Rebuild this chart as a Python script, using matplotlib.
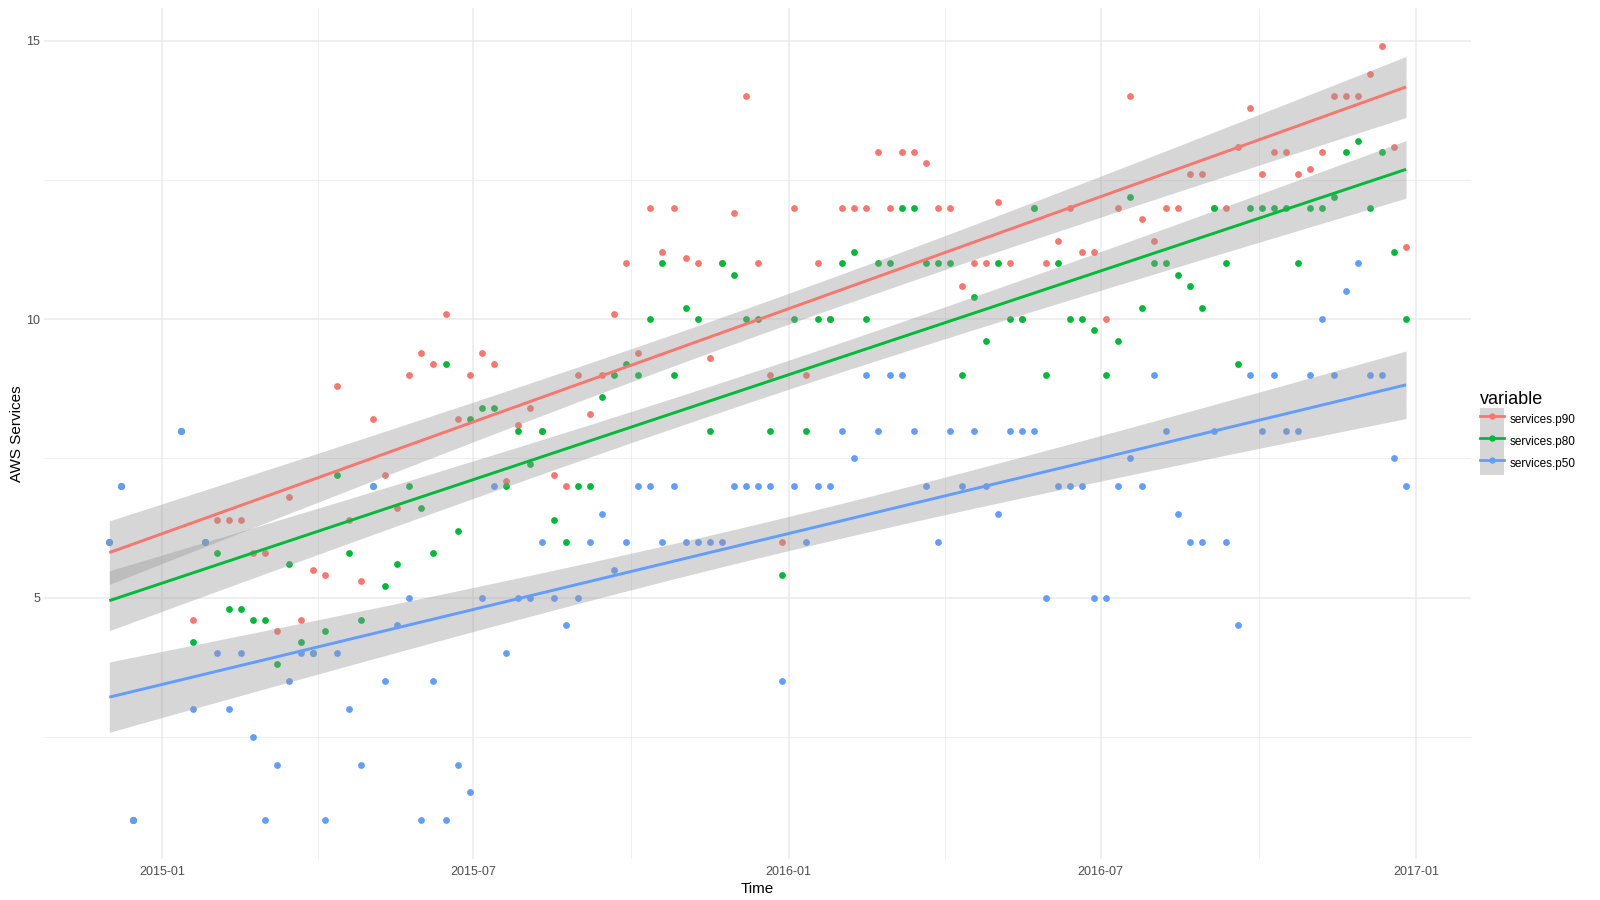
import numpy as np
import pandas as pd
import matplotlib
matplotlib.use("Agg")
import matplotlib.pyplot as plt
import matplotlib.dates as mdates
from matplotlib.patches import Rectangle
from matplotlib.lines import Line2D
from matplotlib.legend_handler import HandlerTuple

plt.rcParams['font.family'] = ['Liberation Sans', 'DejaVu Sans']

# ---------------- data (weekly observations, None = no data that week) -------------
start_date = "2014-12-01"

p90 = [6, 7, 1, None, None, None, 8, 4.6, 6, 6.4, 6.4, 6.4, 5.8, 5.8, 4.4, 6.8, 4.6, 5.5, 5.4, 8.8,
       6.4, 5.3, 8.2, 7.2, 6.6, 9.0, 9.4, 9.2, 10.1, 8.2, 9.0, 9.4, 9.2, 7.1, 8.1, 8.4, 8.0, 7.2, 7.0, 9.0,
       8.3, 9.0, 10.1, 11.0, 9.4, 12.0, 11.2, 12.0, 11.1, 11.0, 9.3, 11.0, 11.9, 14.0, 11.0, 9.0, 6.0, 12.0, 9.0, 11.0,
       10.0, 12.0, 12.0, 12.0, 13.0, 12.0, 13.0, 13.0, 12.8, 12.0, 12.0, 10.6, 11.0, 11.0, 12.1, 11.0, 10.0, 12.0, 11.0, 11.4,
       12.0, 11.2, 11.2, 10.0, 12.0, 14.0, 11.8, 11.4, 12.0, 12.0, 12.6, 12.6, 12.0, 12.0, 13.1, 13.8, 12.6, 13.0, 13.0, 12.6,
       12.7, 13.0, 14.0, 14.0, 14.0, 14.4, 14.9, 13.1, 11.3]

p80 = [6, 7, 1, None, None, None, 8, 4.2, 6, 5.8, 4.8, 4.8, 4.6, 4.6, 3.8, 5.6, 4.2, 4.0, 4.4, 7.2,
       5.8, 4.6, 7.0, 5.2, 5.6, 7.0, 6.6, 5.8, 9.2, 6.2, 8.2, 8.4, 8.4, 7.0, 8.0, 7.4, 8.0, 6.4, 6.0, 7.0,
       7.0, 8.6, 9.0, 9.2, 9.0, 10.0, 11.0, 9.0, 10.2, 10.0, 8.0, 11.0, 10.8, 10.0, 10.0, 8.0, 5.4, 10.0, 8.0, 10.0,
       10.0, 11.0, 11.2, 10.0, 11.0, 11.0, 12.0, 12.0, 11.0, 11.0, 11.0, 9.0, 10.4, 9.6, 11.0, 10.0, 10.0, 12.0, 9.0, 11.0,
       10.0, 10.0, 9.8, 9.0, 9.6, 12.2, 10.2, 11.0, 11.0, 10.8, 10.6, 10.2, 12.0, 11.0, 9.2, 12.0, 12.0, 12.0, 12.0, 11.0,
       12.0, 12.0, 12.2, 13.0, 13.2, 12.0, 13.0, 11.2, 10.0]

p50 = [6, 7, 1, None, None, None, 8, 3, 6, 4, 3, 4, 2.5, 1, 2, 3.5, 4, 4, 1, 4,
       3, 2, 7, 3.5, 4.5, 5, 1, 3.5, 1, 2, 1.5, 5, 7, 4, 5, 5, 6, 5, 4.5, 5,
       6, 6.5, 5.5, 6, 7, 7, 6, 7, 6, 6, 6, 6, 7, 7, 7, 7, 3.5, 7, 6, 7,
       7, 8, 7.5, 9, 8, 9, 9, 8, 7, 6, 8, 7, 8, 7, 6.5, 8, 8, 8, 5, 7,
       7, 7, 5, 5, 7, 7.5, 7, 9, 8, 6.5, 6, 6, 8, 6, 4.5, 9, 8, 9, 8, 8,
       9, 10, 9, 10.5, 11, 9, 9, 7.5, 7]

series_names = ["services.p90", "services.p80", "services.p50"]
series_colors = ["#F8766D", "#00BA38", "#619CFF"]
x_tick_labels = ["2015-01", "2015-07", "2016-01", "2016-07", "2017-01"]
y_ticks = [5, 10, 15]

# ---------------------------------------------------------------------------------
dates = pd.date_range(start_date, periods=len(p90), freq="7D")
xnum_all = mdates.date2num(dates.to_pydatetime())

fig = plt.figure(figsize=(16, 9), dpi=100)
ax = fig.add_axes([0.0278, 0.0456, 0.8915, 0.9459])

band_color = "#999999"
band_alpha = 0.4


def t975(df):
    z = 1.959964
    return (z + (z**3 + z) / (4 * df) + (5 * z**5 + 16 * z**3 + 3 * z) / (96 * df**2)
            + (3 * z**7 + 19 * z**5 + 17 * z**3 - 15 * z) / (384 * df**3))


all_vals = []
series = [p90, p80, p50]
# points first (ggplot draws all points, then smooths)
for vals, col in zip(series, series_colors):
    v = np.array([np.nan if a is None else a for a in vals], dtype=float)
    m = ~np.isnan(v)
    ax.scatter(xnum_all[m], v[m], s=24, color=col, linewidths=0, zorder=3)
    all_vals.append(v[m])

z = 4
for vals, col in zip(series, series_colors):
    v = np.array([np.nan if a is None else a for a in vals], dtype=float)
    m = ~np.isnan(v)
    x = xnum_all[m]
    y = v[m]
    n = len(x)
    xb = x.mean()
    sxx = ((x - xb) ** 2).sum()
    b = ((x - xb) * (y - y.mean())).sum() / sxx
    a = y.mean() - b * xb
    resid = y - (a + b * x)
    s = np.sqrt((resid ** 2).sum() / (n - 2))
    xs = np.linspace(x.min(), x.max(), 80)
    fit = a + b * xs
    se = s * np.sqrt(1.0 / n + (xs - xb) ** 2 / sxx)
    t = t975(n - 2)
    ax.fill_between(xs, fit - t * se, fit + t * se, color=band_color, alpha=band_alpha,
                    linewidth=0, zorder=z)
    ax.plot(xs, fit, color=col, lw=2.1, zorder=z + 0.5, solid_capstyle="butt")
    z += 1

# ticks / grid
major_x = [mdates.date2num(pd.Timestamp(l + "-01").to_pydatetime()) for l in x_tick_labels]
minor_x = [(major_x[i] + major_x[i + 1]) / 2 for i in range(len(major_x) - 1)]
ax.set_xticks(major_x)
ax.set_xticklabels(x_tick_labels)
ax.set_xticks(minor_x, minor=True)
ax.set_yticks(y_ticks)
ax.set_yticklabels([str(v) for v in y_ticks])
ax.set_yticks([2.5, 7.5, 12.5], minor=True)

# limits with ggplot-like 5% expansion (set after ticks)
xmin, xmax = xnum_all.min(), xnum_all.max()
xr = xmax - xmin
ax.set_xlim(xmin - 0.05 * xr, xmax + 0.05 * xr)
ally = np.concatenate(all_vals)
ymin, ymax = ally.min(), ally.max()
yr = ymax - ymin
ax.set_ylim(ymin - 0.05 * yr, ymax + 0.05 * yr)

ax.grid(which="major", color="#EBEBEB", linewidth=1.1, zorder=0)
ax.grid(which="minor", color="#EBEBEB", linewidth=0.55, zorder=0)
ax.set_axisbelow(True)
for sp in ax.spines.values():
    sp.set_visible(False)
ax.tick_params(which="both", length=0)
ax.tick_params(axis="x", labelsize=9, labelcolor="#4D4D4D", pad=5)
ax.tick_params(axis="y", labelsize=9, labelcolor="#4D4D4D", pad=3)

ax.set_xlabel("Time", fontsize=11, color="black", labelpad=3)
ax.set_ylabel("AWS Services", fontsize=11, color="black", labelpad=2)

# legend
handles = []
for col in series_colors:
    bg = Rectangle((0, 0), 1, 1, facecolor=band_color, alpha=band_alpha, edgecolor="none")
    ln = Line2D([], [], color=col, lw=2.0, marker="o", markersize=4.6, markeredgewidth=0)
    handles.append((bg, ln))
leg = fig.legend(handles, series_names, handler_map={tuple: HandlerTuple(ndivide=1, pad=0)},
                 loc="center left", bbox_to_anchor=(0.925, 0.519), frameon=False,
                 fontsize=8.5, title="variable", title_fontsize=13, handlelength=2.0,
                 handleheight=2.5, labelspacing=0.0, handletextpad=0.5, borderpad=0,
                 borderaxespad=0)
leg._legend_box.align = "left"

fig.savefig("out.png", dpi=100)
